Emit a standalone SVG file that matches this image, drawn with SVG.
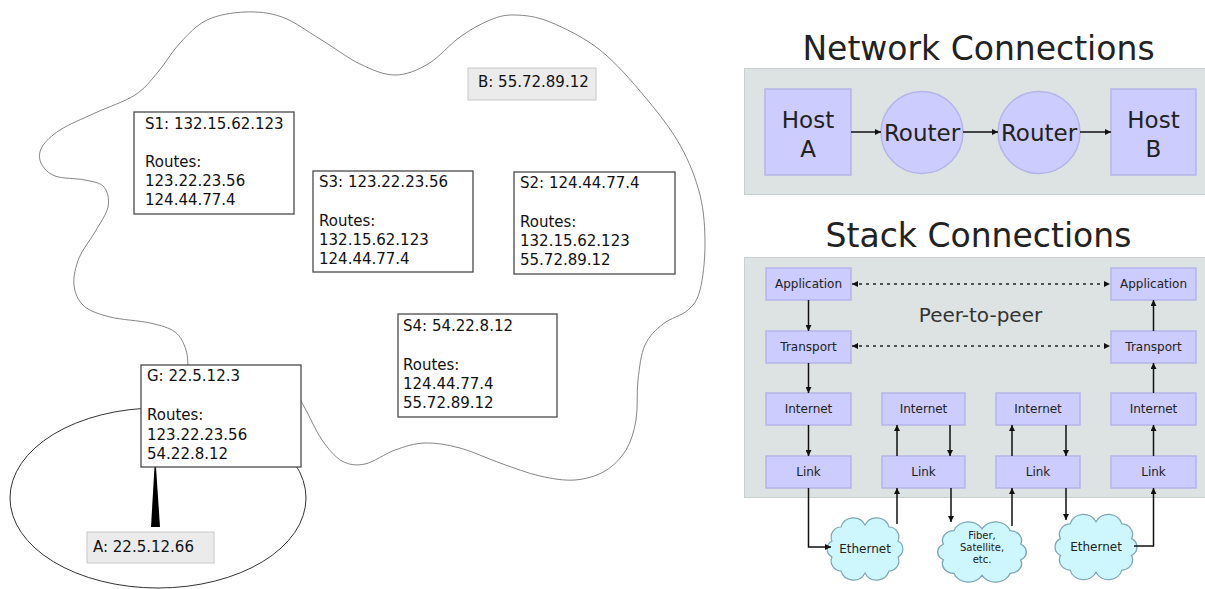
<svg xmlns="http://www.w3.org/2000/svg" width="1205" height="589" viewBox="0 0 1205 589">
<style>
.t{font-family:"DejaVu Sans","Liberation Sans",sans-serif}
.lt{font-size:15px;fill:#111}
.box{fill:#fff;stroke:#4a4a4a;stroke-width:1.3}
.gbox{fill:#ebebeb;stroke:#c8c8c8;stroke-width:1}
.panel{fill:#dce3e2;stroke:#c9d0cf;stroke-width:1}
.lav{fill:#ccccff;stroke:#b5b5ea;stroke-width:1.5}
.st{font-size:12px;fill:#222;text-anchor:middle}
.ft{font-size:10px;fill:#222;text-anchor:middle}
.ht{font-size:23px;fill:#222;text-anchor:middle}
.ttl{font-size:33px;fill:#222;text-anchor:middle}
.ar{stroke:#111;stroke-width:1.5;fill:none;marker-end:url(#ah)}
.dot{stroke:#222;stroke-width:1.3;stroke-dasharray:3 4;fill:none;marker-start:url(#ah);marker-end:url(#ah)}
.cl{fill:#cdf7fc;stroke:#7fa6b3;stroke-width:1.2}
</style>
<defs>
<marker id="ah" viewBox="0 0 8 8" refX="8" refY="4" markerWidth="6" markerHeight="6" markerUnits="userSpaceOnUse" orient="auto-start-reverse">
<path d="M0,0 L8,4 L0,8 z" fill="#111"/>
</marker>
<path id="cloud" d="M-24,-22 A13 13 0 0 1 0,-24 A13 13 0 0 1 24,-22 A10 10 0 0 1 33,-8 A9 9 0 0 1 33,8 A10 10 0 0 1 24,22 A13 13 0 0 1 0,24 A13 13 0 0 1 -24,22 A10 10 0 0 1 -33,8 A9 9 0 0 1 -33,-8 A10 10 0 0 1 -24,-22 Z"/>
</defs>
<rect width="1205" height="589" fill="#fff"/>

<!-- left: network outlines -->
<g id="outlines" fill="none">
<path stroke="#777" stroke-width="0.9" d="M188,372 C188,368 188.2,356.7 186,350 S181,336.5 175,332 S160.8,325.5 150,323 S121,319.8 110,317 S90,311.3 84,306 S74.8,293 74,285 S75.5,266.8 79,258 S90.2,240.5 95,232 S106.5,214.5 108,207 S107.8,191.5 104,187 S93.2,181.8 85,180 S62.3,178.8 55,176 S43.2,167.8 41,163 S38.8,152.5 42,147 S51.2,135.7 60,130 S82.5,118.8 95,113 S124.5,101.8 135,95 S150.5,80.7 158,72 S171.8,51.7 180,43 S196.2,25.2 207,20 S232.5,12.5 245,12 S269.5,12.5 282,17 S307,31.2 320,39 S347.5,58 360,64 S383.7,75 395,75 S417.2,70.3 428,64 S449.7,44.3 460,37 S480.8,23.7 490,20 S505,14.7 515,15 S535.8,16.2 550,22 S584.2,37.5 600,50 S631.7,81.2 645,97 S670.8,128.7 680,145 S695.8,178.3 700,195 S705,229.2 705,245 S702.8,279.2 700,290 S694.2,304.3 688,310 S670.2,318.2 663,324 S649.2,335.7 645,345 S639.5,367.5 638,380 S638,408.3 636,420 S631.2,441.5 626,450 S613.5,466 605,471 S585.8,479.2 575,480 S552.5,478.8 540,476 S513.3,467.7 500,463 S472.5,451.3 460,448 S435.8,442.7 425,443 S405,446.5 395,450 S373.8,462.2 365,464 S349.2,465 342,461 S327.8,448.2 322,440 S311.3,420 307,412 S297.8,395.3 296,392"/>
<ellipse cx="158" cy="498" rx="148" ry="90" stroke="#333" stroke-width="1"/>
</g>

<g id="connectors-left">
<polygon points="154.5,467 156,467 160,527 151,527" fill="#000"/>
</g>

<g id="B" class="t"><rect class="gbox" x="468" y="68" width="128" height="32"/><text class="lt" x="478" y="87">B: 55.72.89.12</text></g>
<g id="A" class="t"><rect class="gbox" x="87" y="532" width="127" height="31"/><text class="lt" x="93" y="552">A: 22.5.12.66</text></g>

<g id="S1" class="t"><rect class="box" x="134" y="112" width="160" height="102"/>
<text class="lt" x="145" y="129">S1: 132.15.62.123</text><text class="lt" x="145" y="167">Routes:</text><text class="lt" x="145" y="186">123.22.23.56</text><text class="lt" x="145" y="205">124.44.77.4</text></g>

<g id="S3" class="t"><rect class="box" x="313" y="171" width="160" height="101"/>
<text class="lt" x="319" y="187">S3: 123.22.23.56</text><text class="lt" x="319" y="226">Routes:</text><text class="lt" x="319" y="245">132.15.62.123</text><text class="lt" x="319" y="264">124.44.77.4</text></g>

<g id="S2" class="t"><rect class="box" x="514" y="172" width="161" height="102"/>
<text class="lt" x="520" y="188">S2: 124.44.77.4</text><text class="lt" x="520" y="227">Routes:</text><text class="lt" x="520" y="246">132.15.62.123</text><text class="lt" x="520" y="265">55.72.89.12</text></g>

<g id="S4" class="t"><rect class="box" x="398" y="314" width="159" height="103"/>
<text class="lt" x="403" y="330.5">S4: 54.22.8.12</text><text class="lt" x="403" y="369.5">Routes:</text><text class="lt" x="403" y="389">124.44.77.4</text><text class="lt" x="403" y="408">55.72.89.12</text></g>

<g id="G" class="t"><rect class="box" x="141" y="365" width="160" height="102"/>
<text class="lt" x="147" y="381">G: 22.5.12.3</text><text class="lt" x="147" y="420">Routes:</text><text class="lt" x="147" y="440">123.22.23.56</text><text class="lt" x="147" y="459">54.22.8.12</text></g>

<!-- right: Network Connections -->
<g id="net-title" class="t"><text class="ttl" x="978.5" y="60">Network Connections</text></g>
<g id="net-panel"><rect class="panel" x="744.5" y="68.5" width="462" height="126"/></g>
<g id="hostA" class="t"><rect class="lav" x="765" y="89" width="86" height="86"/><text class="ht" x="808" y="128">Host</text><text class="ht" x="808" y="157">A</text></g>
<g id="router1" class="t"><circle class="lav" cx="922" cy="132.5" r="41"/><text class="ht" x="922" y="141">Router</text></g>
<g id="router2" class="t"><circle class="lav" cx="1039" cy="132.5" r="41"/><text class="ht" x="1039" y="141">Router</text></g>
<g id="hostB" class="t"><rect class="lav" x="1111" y="89" width="85" height="86"/><text class="ht" x="1153.5" y="128">Host</text><text class="ht" x="1153.5" y="157">B</text></g>

<!-- Stack Connections -->
<g id="stack-title" class="t"><text class="ttl" x="978.5" y="247">Stack Connections</text></g>
<g id="stack-panel"><rect class="panel" x="744.5" y="257.5" width="462" height="240"/></g>
<g id="peer" class="t"><text x="980.5" y="322" font-size="20" fill="#333" text-anchor="middle">Peer-to-peer</text></g>

<g id="app1" class="t"><rect class="lav" x="766" y="268" width="85" height="32"/><text class="st" x="808.5" y="288">Application</text></g>
<g id="trn1" class="t"><rect class="lav" x="766" y="331" width="85" height="32"/><text class="st" x="808.5" y="351">Transport</text></g>
<g id="int1" class="t"><rect class="lav" x="766" y="393" width="85" height="32"/><text class="st" x="808.5" y="413">Internet</text></g>
<g id="lnk1" class="t"><rect class="lav" x="766" y="456" width="85" height="32"/><text class="st" x="808.5" y="476">Link</text></g>

<g id="int2" class="t"><rect class="lav" x="882" y="393" width="83" height="32"/><text class="st" x="923.5" y="413">Internet</text></g>
<g id="lnk2" class="t"><rect class="lav" x="882" y="456" width="83" height="32"/><text class="st" x="923.5" y="476">Link</text></g>

<g id="int3" class="t"><rect class="lav" x="996" y="393" width="84" height="32"/><text class="st" x="1038" y="413">Internet</text></g>
<g id="lnk3" class="t"><rect class="lav" x="996" y="456" width="84" height="32"/><text class="st" x="1038" y="476">Link</text></g>

<g id="app4" class="t"><rect class="lav" x="1111" y="268" width="85" height="32"/><text class="st" x="1153.5" y="288">Application</text></g>
<g id="trn4" class="t"><rect class="lav" x="1111" y="331" width="85" height="32"/><text class="st" x="1153.5" y="351">Transport</text></g>
<g id="int4" class="t"><rect class="lav" x="1111" y="393" width="85" height="32"/><text class="st" x="1153.5" y="413">Internet</text></g>
<g id="lnk4" class="t"><rect class="lav" x="1111" y="456" width="85" height="32"/><text class="st" x="1153.5" y="476">Link</text></g>

<g id="eth1" class="t"><use href="#cloud" class="cl" transform="translate(865,549)"/><text class="st" x="865" y="553">Ethernet</text></g>
<g id="fiber" class="t"><use href="#cloud" class="cl" transform="translate(982,552) scale(1.17,0.97)" vector-effect="non-scaling-stroke"/><text class="ft" x="982" y="539">Fiber,</text><text class="ft" x="982" y="551">Satellite,</text><text class="ft" x="982" y="563">etc.</text></g>
<g id="eth2" class="t"><use href="#cloud" class="cl" transform="translate(1096,547) scale(1.08,1.05)"/><text class="st" x="1096" y="551">Ethernet</text></g>

<g id="connectors">
<line class="ar" x1="851" y1="132" x2="881" y2="132"/>
<line class="ar" x1="963" y1="132" x2="998" y2="132"/>
<line class="ar" x1="1080" y1="132" x2="1111" y2="132"/>
<line class="dot" x1="852" y1="284" x2="1110" y2="284"/>
<line class="dot" x1="852" y1="346" x2="1110" y2="346"/>
<line class="ar" x1="808.5" y1="300" x2="808.5" y2="331"/>
<line class="ar" x1="808.5" y1="363" x2="808.5" y2="393"/>
<line class="ar" x1="808.5" y1="425" x2="808.5" y2="456"/>
<path class="ar" d="M808.5,488 V547 H831"/>
<line class="ar" x1="897" y1="456" x2="897" y2="425"/>
<line class="ar" x1="950" y1="425" x2="950" y2="456"/>
<line class="ar" x1="897" y1="524" x2="897" y2="488"/>
<line class="ar" x1="951" y1="488" x2="951" y2="522"/>
<line class="ar" x1="1012" y1="456" x2="1012" y2="425"/>
<line class="ar" x1="1066" y1="425" x2="1066" y2="456"/>
<line class="ar" x1="1012" y1="526" x2="1012" y2="488"/>
<line class="ar" x1="1066" y1="488" x2="1066" y2="520"/>
<path class="ar" d="M1134,546 H1153.5 V488"/>
<line class="ar" x1="1153.5" y1="456" x2="1153.5" y2="425"/>
<line class="ar" x1="1153.5" y1="393" x2="1153.5" y2="363"/>
<line class="ar" x1="1153.5" y1="331" x2="1153.5" y2="300"/>
</g>
</svg>
